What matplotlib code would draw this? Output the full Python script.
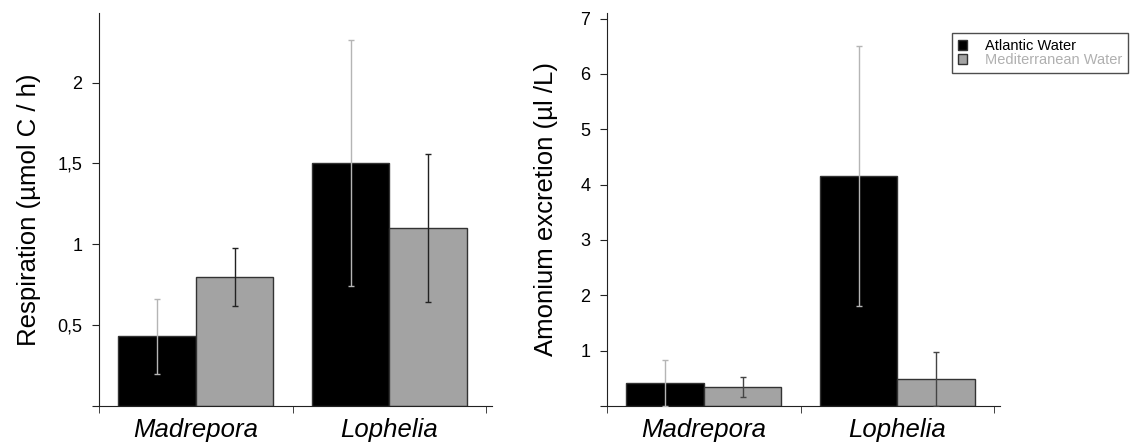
import numpy as np
import matplotlib.pyplot as plt
from matplotlib.patches import Patch

plt.rcParams['font.family'] = ['Liberation Sans', 'DejaVu Sans']

# data
species = ['Madrepora', 'Lophelia']
series = ['Atlantic Water', 'Mediterranean Water']

resp_atl = [0.43, 1.50]
resp_atl_err = [0.23, 0.76]
resp_med = [0.80, 1.10]
resp_med_err = [0.18, 0.46]

amon_atl = [0.42, 4.16]
amon_atl_err = [0.42, 2.35]
amon_med = [0.35, 0.49]
amon_med_err = [0.18, 0.49]

resp_ticks = [0, 0.5, 1, 1.5, 2]
resp_ticklabels = ['', '0,5', '1', '1,5', '2']
amon_ticks = [0, 1, 2, 3, 4, 5, 6, 7]
amon_ticklabels = ['', '1', '2', '3', '4', '5', '6', '7']

col_atl = '#000000'
col_med = '#a3a3a3'
edge = '#333333'
err_atl = '#b5b5b5'
err_med = '#222222'

fig = plt.figure(figsize=(11.36, 4.43), dpi=100)
ax1 = fig.add_axes([99/1136, 37/443, 393/1136, 393/443])
ax2 = fig.add_axes([607/1136, 37/443, 393/1136, 393/443])


def draw(ax, atl, atl_e, med, med_e, ticks, ticklabels, ymax, ylabel, med_ecol, ylpad):
    x = np.arange(len(species))
    w = 0.4
    ax.bar(x - w/2, atl, w, color=col_atl, edgecolor=edge, linewidth=1, zorder=2)
    ax.bar(x + w/2, med, w, color=col_med, edgecolor=edge, linewidth=1, zorder=2)
    ax.errorbar(x - w/2, atl, yerr=atl_e, fmt='none', ecolor=err_atl,
                elinewidth=1, capsize=2, capthick=1, zorder=3)
    ax.errorbar(x + w/2, med, yerr=med_e, fmt='none', ecolor=med_ecol,
                elinewidth=1, capsize=2, capthick=1, zorder=3)
    ax.set_xlim(-0.5, 1.53)
    ax.set_ylim(0, ymax)
    ax.spines['top'].set_visible(False)
    ax.spines['right'].set_visible(False)
    ax.spines['left'].set_color('#222222')
    ax.spines['bottom'].set_color('#222222')
    ax.set_xticks(x)
    ax.set_xticklabels(species, fontsize=18.5, style='italic')
    ax.tick_params(axis='x', which='major', length=0, pad=9)
    ax.set_xticks([-0.5, 0.5, 1.5], minor=True)
    ax.tick_params(axis='x', which='minor', length=5, direction='out', color='#222222')
    ax.set_yticks(ticks)
    ax.set_yticklabels(ticklabels, fontsize=13)
    ax.tick_params(axis='y', length=5, direction='out', color='#222222', pad=7)
    ax.set_ylabel(ylabel, fontsize=18.5, labelpad=ylpad)


draw(ax1, resp_atl, resp_atl_err, resp_med, resp_med_err,
     resp_ticks, resp_ticklabels, 2.43, 'Respiration (µmol C / h)', err_med, 12)
draw(ax2, amon_atl, amon_atl_err, amon_med, amon_med_err,
     amon_ticks, amon_ticklabels, 7.1, 'Amonium excretion (µl /L)', '#444444', 16)

# legend sits top right and runs off the figure edge, as in the original
handles = [Patch(facecolor=col_atl, edgecolor=edge), Patch(facecolor=col_med, edgecolor=edge)]
leg = fig.legend(handles, series, loc='upper left', bbox_to_anchor=(952/1136, 1 - 33/443),
                 fontsize=10.5, frameon=True, fancybox=False, handlelength=0.65,
                 handleheight=0.7, handletextpad=1.2, borderpad=0.4, labelspacing=0.02,
                 borderaxespad=0)
leg.get_frame().set_edgecolor('#222222')
leg.get_frame().set_linewidth(1)
leg.get_texts()[0].set_color('#000000')
leg.get_texts()[1].set_color('#b0b0b0')

fig.savefig('out.png', dpi=100)
